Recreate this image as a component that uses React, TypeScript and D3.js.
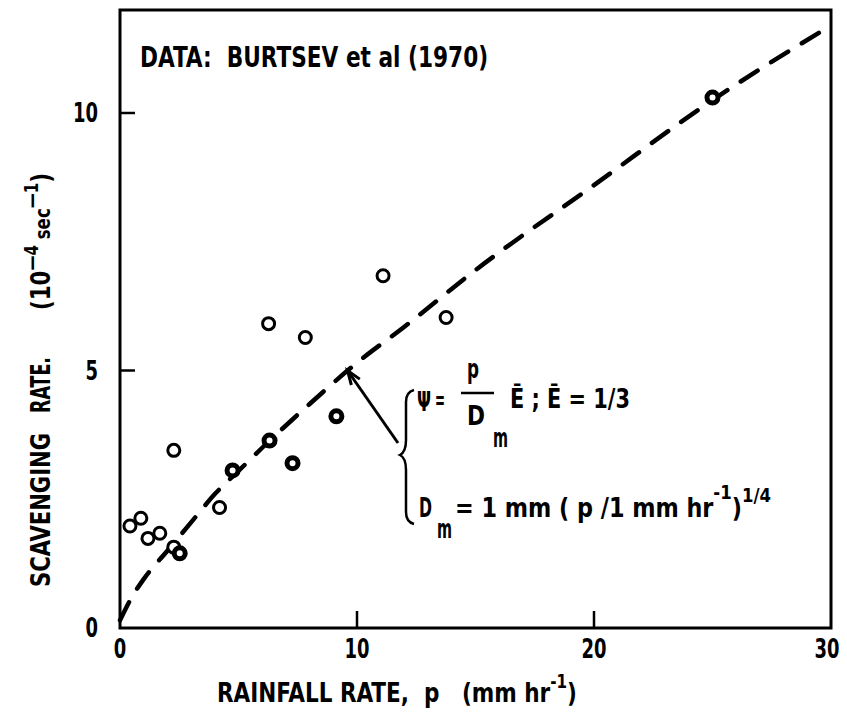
import * as d3 from "d3";
import { useLayoutEffect, useRef, useState } from "react";
import type { ReactNode } from "react";

// tick values
const xTicks = [0, 10, 20, 30];
const yTicks = [0, 5, 10];

// Burtsev et al (1970) points: open rings
const openP = [0.42, 0.88, 1.18, 1.68, 2.27, 2.27, 4.2, 6.27, 7.82, 11.1, 13.76];
const openV = [1.98, 2.13, 1.74, 1.84, 1.57, 3.45, 2.34, 5.91, 5.64, 6.84, 6.03];

// heavy (nearly filled) rings
const heavyP = [2.52, 4.75, 6.31, 7.28, 9.13, 25.0];
const heavyV = [1.45, 3.06, 3.64, 3.2, 4.11, 10.3];

// dashed model curve
const curveP = [0, 0.5, 1, 2, 3, 4, 5, 6, 8, 10, 12, 15, 20, 25, 30];
const curveV = [0.15, 0.6, 0.95, 1.5, 2.05, 2.6, 3.05, 3.5, 4.35, 5.15, 5.85, 6.95, 8.6, 10.25, 11.7];

const W = 847;
const H = 727;
const m = { left: 120, right: 831, top: 10, bottom: 628 };
const font = "'DejaVu Sans Condensed', 'DejaVu Sans', sans-serif";

// condensed text: measure it, then squeeze it horizontally to width w
function T(props: {
  x: number;
  y: number;
  w: number;
  size?: number;
  anchor?: "start" | "middle" | "end";
  children: ReactNode;
}) {
  const { x, y, w, size = 27, anchor = "start", children } = props;
  const ref = useRef<SVGTextElement>(null);
  const [s, setS] = useState(0.75);
  useLayoutEffect(() => {
    if (!ref.current) return;
    const bw = ref.current.getBBox().width;
    if (bw > 0) setS(w / bw);
  }, [w, children]);
  return (
    <g transform={`translate(${x},${y}) scale(${s},1)`}>
      <text ref={ref} fontSize={size} textAnchor={anchor} style={{ whiteSpace: "pre" }}>
        {children}
      </text>
    </g>
  );
}

export default function App() {
  const x = d3.scaleLinear().domain([0, 30]).range([m.left, m.right]);
  const y = d3.scaleLinear().domain([0, 12]).range([m.bottom, m.top]);

  const curve = d3
    .line<number>()
    .x((d) => x(d))
    .y((_, i) => y(curveV[i]))
    .curve(d3.curveMonotoneX);

  // arrow from the formula up to the curve
  const tip = [x(9.6), y(5.0)];
  const tail = [398, 443];
  const ang = Math.atan2(tail[1] - tip[1], tail[0] - tip[0]);
  const barb = (a: number) => [tip[0] + 15 * Math.cos(ang + a), tip[1] + 15 * Math.sin(ang + a)];
  const b1 = barb(0.35);
  const b2 = barb(-0.35);

  return (
    <svg
      width={W}
      height={H}
      style={{ position: "absolute", left: 0, top: 0, background: "#fff" }}
      fontFamily={font}
      fontWeight="bold"
    >
      {/* frame */}
      <rect
        x={m.left}
        y={m.top}
        width={m.right - m.left}
        height={m.bottom - m.top}
        fill="none"
        stroke="#000"
        strokeWidth={3}
      />
      {xTicks
        .filter((t) => t > 0 && t < 30)
        .map((t) => (
          <line key={t} x1={x(t)} x2={x(t)} y1={m.bottom} y2={m.bottom - 17} stroke="#000" strokeWidth={2.5} />
        ))}
      {yTicks
        .filter((t) => t > 0)
        .map((t) => (
          <line key={t} x1={m.left} x2={m.left + 15} y1={y(t)} y2={y(t)} stroke="#000" strokeWidth={2.5} />
        ))}
      {xTicks.map((t) => (
        <T key={t} x={t === 30 ? x(t) - 4 : x(t)} y={658} w={String(t).length * 12.5} anchor="middle">
          {String(t)}
        </T>
      ))}
      {yTicks.map((t) => (
        <T key={t} x={98} y={y(t) + 9} w={String(t).length * 12.5} anchor="end">
          {String(t)}
        </T>
      ))}

      {/* x axis title */}
      <T x={217} y={702} w={360}>
        {"RAINFALL RATE,  p   (mm hr"}
        <tspan dy={-14} fontSize={19}>-1</tspan>
        <tspan dy={14}>)</tspan>
      </T>

      {/* y axis title, rotated */}
      <g transform="translate(50,0) rotate(-90)">
        <T x={-587} y={0} w={154}>SCAVENGING</T>
        <T x={-413} y={0} w={56}>RATE.</T>
        <T x={-310} y={0} w={137}>
          {"(10"}
          <tspan dy={-12} fontSize={19}>—4</tspan>
          <tspan dy={12} fontSize={21}> sec</tspan>
          <tspan dy={-12} fontSize={19}>—1</tspan>
          <tspan dy={12}>)</tspan>
        </T>
      </g>

      <T x={140} y={67} w={348} size={28}>
        {"DATA:  BURTSEV et al (1970)"}
      </T>

      {/* model curve */}
      <path
        d={curve(curveP) ?? ""}
        fill="none"
        stroke="#000"
        strokeWidth={4.5}
        strokeDasharray="20 16"
        strokeLinecap="round"
      />

      {/* data */}
      {openP.map((p, i) => (
        <circle key={"o" + i} cx={x(p)} cy={y(openV[i])} r={6} fill="#fff" stroke="#000" strokeWidth={3} />
      ))}
      {heavyP.map((p, i) => (
        <circle key={"h" + i} cx={x(p)} cy={y(heavyV[i])} r={5.5} fill="#fff" stroke="#000" strokeWidth={5} />
      ))}

      {/* arrow */}
      <line x1={tail[0]} y1={tail[1]} x2={tip[0]} y2={tip[1]} stroke="#000" strokeWidth={3} />
      <polyline
        points={`${b1[0]},${b1[1]} ${tip[0]},${tip[1]} ${b2[0]},${b2[1]}`}
        fill="none"
        stroke="#000"
        strokeWidth={3}
      />

      {/* brace */}
      <path
        d="M 414 390 Q 406 392 406 402 L 406 440 Q 406 452 400 455 Q 406 458 406 470 L 406 512 Q 406 522 414 524"
        fill="none"
        stroke="#000"
        strokeWidth={2.5}
      />

      {/* formula line 1 */}
      <T x={417} y={411} w={14}>Ψ</T>
      <T x={435} y={409} w={10}>=</T>
      <T x={473} y={378} w={12} anchor="middle">p</T>
      <line x1={461} x2={494} y1={393} y2={393} stroke="#000" strokeWidth={2.5} />
      <T x={467} y={425} w={18}>D</T>
      <T x={493} y={447} w={15}>m</T>
      <T x={510} y={408} w={120}>{"Ē ; Ē = 1/3"}</T>

      {/* formula line 2 */}
      <T x={419} y={517} w={13}>D</T>
      <T x={437} y={538} w={15}>m</T>
      <T x={455} y={517} w={316}>
        {"= 1 mm ( p /1 mm hr"}
        <tspan dy={-18} fontSize={20}>-1</tspan>
        <tspan dy={18}>)</tspan>
        <tspan dy={-15} fontSize={20}>1/4</tspan>
      </T>
    </svg>
  );
}
